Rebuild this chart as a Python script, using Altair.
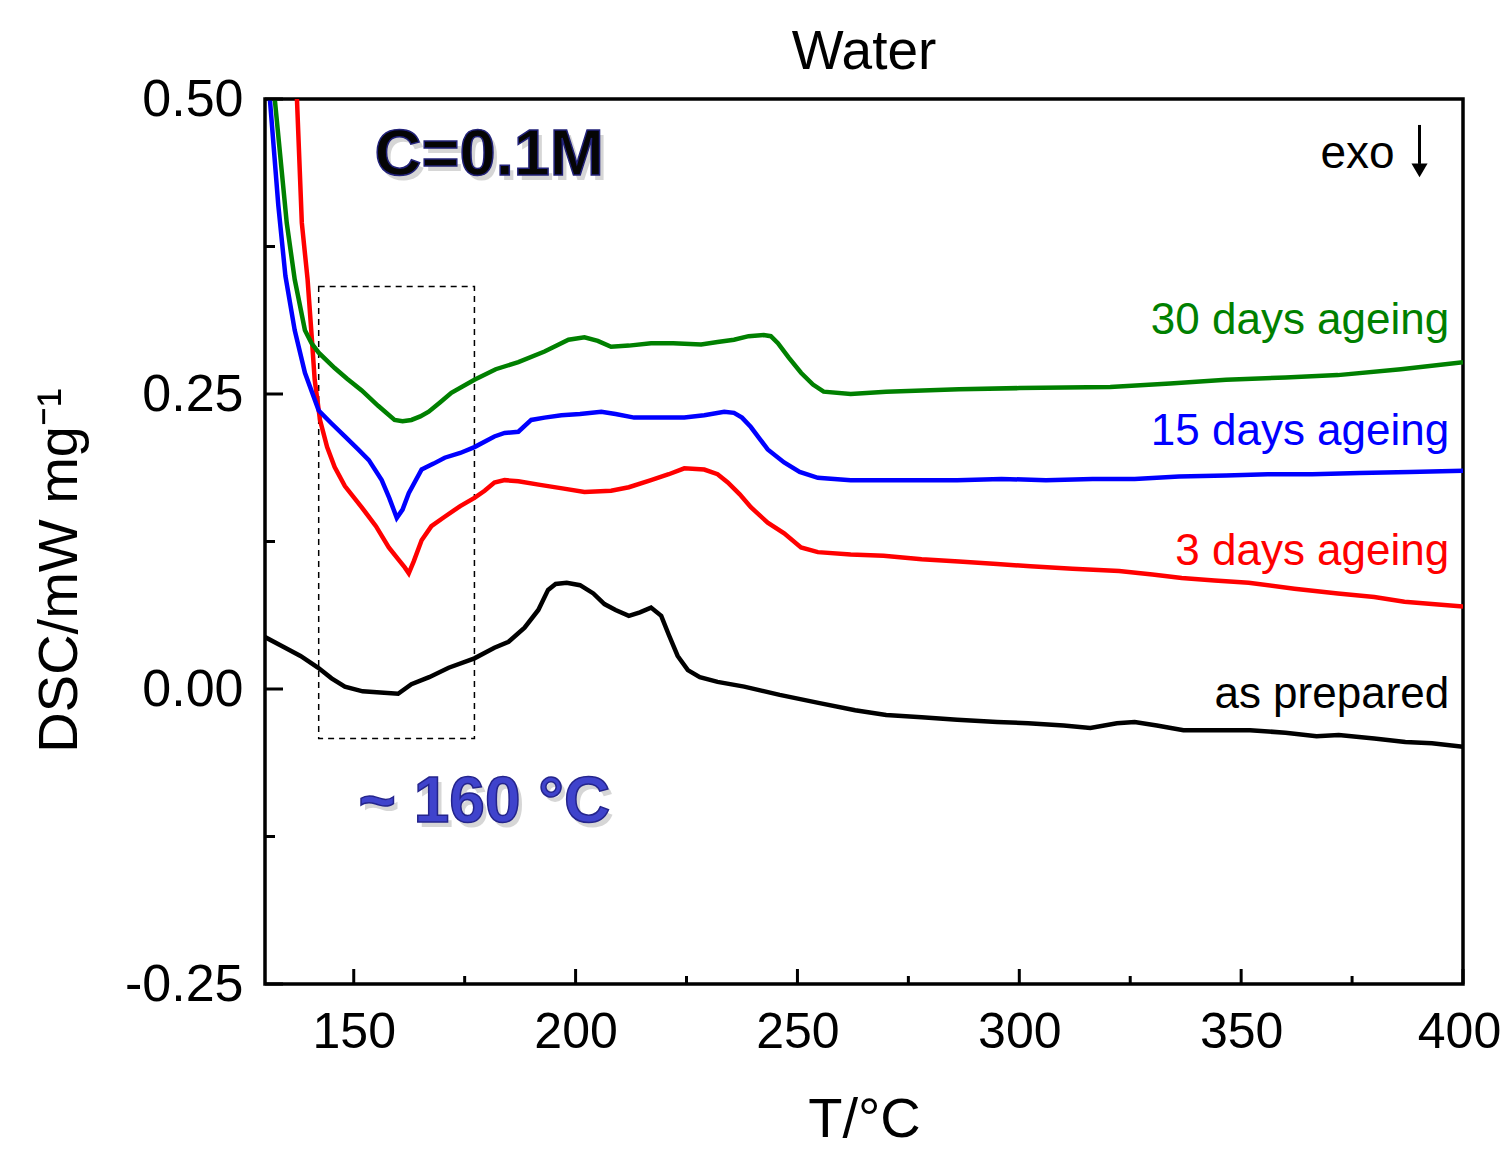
import altair as alt
import pandas as pd

# ---------------- data ----------------
series_names = ["as prepared", "3 days ageing", "15 days ageing", "30 days ageing"]
series_colors = ["#000000", "#ff0000", "#0000ff", "#008000"]

t_prepared = [130, 134, 138, 142, 145, 148, 152, 156, 160, 163,
              167, 171.4, 177.2, 181.7, 184.9, 188.5, 191.6, 193.8, 195.5, 198,
              201, 204, 206.5, 209, 212, 214.5, 217, 219.3, 221, 223,
              225.3, 228, 232, 238, 246, 255, 263, 270, 278, 286,
              295, 302, 310, 316, 322, 326, 331, 337, 344, 352,
              360, 367, 372, 380, 387, 393, 400]
dsc_prepared = [0.044, 0.036, 0.028, 0.018, 0.009, 0.002, -0.002, -0.003, -0.004, 0.004,
                0.010, 0.018, 0.026, 0.035, 0.040, 0.052, 0.067, 0.084, 0.089, 0.090,
                0.088, 0.081, 0.072, 0.067, 0.062, 0.065, 0.069, 0.062, 0.046, 0.028,
                0.016, 0.010, 0.006, 0.002, -0.005, -0.012, -0.018, -0.022, -0.024, -0.026,
                -0.028, -0.029, -0.031, -0.033, -0.029, -0.028, -0.031, -0.035, -0.035, -0.035,
                -0.037, -0.040, -0.039, -0.042, -0.045, -0.046, -0.049]

t_3d = [137.2, 138.3, 139.6, 140.5, 141.2, 142.4, 144, 145.7, 148, 151.8,
        155, 157.9, 160, 161.5, 162.4, 163.5, 165.3, 167.5, 170.5, 174,
        177.2, 179.5, 181.7, 184, 187.1, 192, 197, 202, 208, 212,
        217, 221, 224.5, 229, 232, 234.3, 237, 239.5, 243.3, 247,
        250.8, 254.6, 262, 269.4, 278, 286.4, 295, 302.5, 312, 322.5,
        330, 336.6, 344, 351.7, 362, 371.8, 380, 386.8, 393, 400]
dsc_3d = [0.5, 0.395, 0.347, 0.30, 0.262, 0.228, 0.205, 0.188, 0.172, 0.154,
          0.138, 0.120, 0.110, 0.103, 0.098, 0.108, 0.126, 0.138, 0.146, 0.155,
          0.162, 0.168, 0.175, 0.177, 0.176, 0.173, 0.170, 0.167, 0.168, 0.171,
          0.177, 0.182, 0.187, 0.186, 0.182, 0.175, 0.165, 0.154, 0.141, 0.132,
          0.120, 0.116, 0.114, 0.113, 0.110, 0.108, 0.106, 0.104, 0.102, 0.100,
          0.097, 0.094, 0.092, 0.090, 0.085, 0.081, 0.078, 0.074, 0.072, 0.070]

t_15d = [131.1, 133.0, 134.6, 136.7, 139, 142.1, 145, 148, 151, 153.4,
         156.3, 158, 159.7, 161, 162.4, 165.3, 168, 170.5, 174, 177.2,
         181.7, 184, 187.1, 190, 193, 196.8, 201, 205.8, 209, 213.2,
         219, 224.5, 229, 233.5, 235.7, 237.5, 239.5, 241.5, 243.3, 247,
         250.5, 254.6, 262, 270, 276.4, 286, 296, 306, 316.5, 326,
         336, 346.6, 356, 366, 376.7, 388, 400]
dsc_15d = [0.5, 0.41, 0.35, 0.304, 0.268, 0.236, 0.225, 0.214, 0.203, 0.194,
           0.177, 0.162, 0.145, 0.152, 0.166, 0.186, 0.191, 0.196, 0.200, 0.205,
           0.214, 0.217, 0.218, 0.228, 0.230, 0.232, 0.233, 0.235, 0.233, 0.230,
           0.230, 0.230, 0.232, 0.235, 0.234, 0.230, 0.222, 0.212, 0.203, 0.192,
           0.184, 0.179, 0.177, 0.177, 0.177, 0.177, 0.178, 0.177, 0.178, 0.178,
           0.180, 0.181, 0.182, 0.182, 0.183, 0.184, 0.185]

t_30d = [132.2, 134.9, 136.7, 139, 140.5, 142.1, 145.7, 148.5, 151.8, 155.5,
         159.2, 161, 163, 165, 166.9, 169.5, 172, 177.2, 182, 187.1,
         193, 198.4, 202, 205, 208, 212, 217, 222, 228.3, 232,
         235.7, 239, 242.4, 244, 245.6, 248, 250.8, 253.5, 255.9, 262,
         270, 286.4, 300, 320.5, 334, 346.6, 360, 371.8, 386, 400]
dsc_30d = [0.5, 0.395, 0.347, 0.304, 0.293, 0.285, 0.272, 0.263, 0.253, 0.240,
           0.228, 0.227, 0.228, 0.231, 0.235, 0.243, 0.251, 0.262, 0.271, 0.277,
           0.286, 0.296, 0.298, 0.295, 0.290, 0.291, 0.293, 0.293, 0.292, 0.294,
           0.296, 0.299, 0.300, 0.299, 0.293, 0.281, 0.268, 0.258, 0.252, 0.250,
           0.252, 0.254, 0.255, 0.256, 0.259, 0.262, 0.264, 0.266, 0.271, 0.277]

x_major = [150, 200, 250, 300, 350, 400]
x_minor = [175, 225, 275, 325, 375]
y_major = [-0.25, 0.0, 0.25, 0.5]
y_minor = [-0.125, 0.125, 0.375]

# series labels
label_text = ["30 days ageing", "15 days ageing", "3 days ageing", "as prepared"]
label_x = [396.9, 396.9, 396.9, 396.9]
label_y = [0.3008, 0.2068, 0.105, -0.0161]
label_color = ["#008000", "#0000ff", "#ff0000", "#000000"]

# dashed box around the ~160 °C event
box_x = [142.1]
box_x2 = [177.2]
box_y = [0.341]
box_y2 = [-0.042]

# annotations
conc_text = ["C=0.1M"]
conc_x = [154.7]
conc_y = [0.4525]
peak_text = ["~ 160 \u00b0C"]
peak_x = [151.1]
peak_y = [-0.0966]
exo_text = ["exo"]
exo_x = [384.6]
exo_y = [0.4415]
arrow_x = [390.2]
arrow_top = [0.478]
arrow_bottom = [0.445]
arrow_head_y = [0.4395]

# ---------------- build tables ----------------
rows = []
for name, xs, ys in zip(series_names,
                        [t_prepared, t_3d, t_15d, t_30d],
                        [dsc_prepared, dsc_3d, dsc_15d, dsc_30d]):
    for i, (a, b) in enumerate(zip(xs, ys)):
        rows.append({"series": name, "T": a, "DSC": b, "order": i})
df = pd.DataFrame(rows)

W, H = 1198, 885
FONT = "Liberation Sans"
xscale = alt.Scale(domain=[130, 400], nice=False, zero=False)
yscale = alt.Scale(domain=[-0.25, 0.5], nice=False, zero=False)

xaxis = alt.Axis(values=x_major, title="T/\u00b0C", format="d",
                 labelFontSize=50, titleFontSize=56, labelFlush=False,
                 labelOffset={"condition": {"test": "datum.value == 400", "value": -4}, "value": 0},
                 labelPadding=23, titlePadding=35, titleFontWeight="normal",
                 grid=False, domain=False, ticks=False)
yaxis = alt.Axis(values=y_major, title="DSC/mW mg\u207b\u00b9",
                 labelExpr="datum.value < 0 ? '-' + format(-datum.value, '.2f') : format(datum.value, '.2f')",
                 labelFontSize=52, titleFontSize=56, labelFlush=False,
                 labelPadding=22, titlePadding=36, titleFontWeight="normal",
                 titleY=471, grid=False, domain=False, ticks=False)


def X(field):
    return alt.X(field, scale=xscale, axis=xaxis)


def Y(field):
    return alt.Y(field, scale=yscale, axis=yaxis)


lines = alt.Chart(df).mark_line(strokeWidth=4.5, clip=True).encode(
    x=X("T:Q"),
    y=Y("DSC:Q"),
    color=alt.Color("series:N", scale=alt.Scale(domain=series_names, range=series_colors), legend=None),
    order="order:Q",
)

box = alt.Chart(pd.DataFrame({"x": box_x, "x2": box_x2, "y": box_y, "y2": box_y2})).mark_rect(
    fill=None, fillOpacity=0, stroke="black", strokeWidth=1.5, strokeDash=[6, 5]
).encode(x=X("x:Q"), x2="x2:Q", y=Y("y:Q"), y2="y2:Q")

xt_major = alt.Chart(pd.DataFrame({"v": x_major})).mark_rule(color="black", strokeWidth=3).encode(
    x=X("v:Q"), y=alt.value(H), y2=alt.value(H - 15))
xt_minor = alt.Chart(pd.DataFrame({"v": x_minor})).mark_rule(color="black", strokeWidth=3).encode(
    x=X("v:Q"), y=alt.value(H), y2=alt.value(H - 8))
yt_major = alt.Chart(pd.DataFrame({"v": y_major})).mark_rule(color="black", strokeWidth=3).encode(
    y=Y("v:Q"), x=alt.value(0), x2=alt.value(18))
yt_minor = alt.Chart(pd.DataFrame({"v": y_minor})).mark_rule(color="black", strokeWidth=3).encode(
    y=Y("v:Q"), x=alt.value(0), x2=alt.value(10))

labels = alt.Chart(pd.DataFrame({"t": label_text, "x": label_x, "y": label_y, "c": label_color})).mark_text(
    align="right", baseline="alphabetic", font=FONT, fontSize=44
).encode(x=X("x:Q"), y=Y("y:Q"), text="t:N", color=alt.Color("c:N", scale=None, legend=None))

conc_df = pd.DataFrame({"t": conc_text, "x": conc_x, "y": conc_y})
conc_shadow = alt.Chart(conc_df).mark_text(
    align="left", baseline="middle", font=FONT, fontSize=65, fontWeight="bold",
    color="#9a9a9a", opacity=0.4, dx=4, dy=5
).encode(x=X("x:Q"), y=Y("y:Q"), text="t:N")
conc = alt.Chart(conc_df).mark_text(
    align="left", baseline="middle", font=FONT, fontSize=65, fontWeight="bold",
    fill="#050505", stroke="#22227a", strokeWidth=1.5
).encode(x=X("x:Q"), y=Y("y:Q"), text="t:N")

peak_df = pd.DataFrame({"t": peak_text, "x": peak_x, "y": peak_y})
peak_shadow = alt.Chart(peak_df).mark_text(
    align="left", baseline="middle", font=FONT, fontSize=64, fontWeight="bold",
    color="#9a9a9a", opacity=0.4, dx=4, dy=5
).encode(x=X("x:Q"), y=Y("y:Q"), text="t:N")
peak = alt.Chart(peak_df).mark_text(
    align="left", baseline="middle", font=FONT, fontSize=64, fontWeight="bold",
    fill="#3f43cc", stroke="#24248c", strokeWidth=1.5
).encode(x=X("x:Q"), y=Y("y:Q"), text="t:N")

exo = alt.Chart(pd.DataFrame({"t": exo_text, "x": exo_x, "y": exo_y})).mark_text(
    align="right", baseline="alphabetic", font=FONT, fontSize=46, color="black"
).encode(x=X("x:Q"), y=Y("y:Q"), text="t:N")

arrow_shaft = alt.Chart(pd.DataFrame({"x": arrow_x, "y": arrow_top, "y2": arrow_bottom})).mark_rule(
    color="black", strokeWidth=3
).encode(x=X("x:Q"), y=Y("y:Q"), y2="y2:Q")
arrow_head = alt.Chart(pd.DataFrame({"x": arrow_x, "y": arrow_head_y})).mark_point(
    shape="triangle-down", filled=True, color="black", size=260, opacity=1
).encode(x=X("x:Q"), y=Y("y:Q"))

chart = alt.layer(
    box, lines, xt_major, xt_minor, yt_major, yt_minor, labels,
    conc_shadow, conc, peak_shadow, peak, exo, arrow_shaft, arrow_head
).properties(
    width=W, height=H,
    title=alt.Title("Water", fontSize=55, font=FONT, fontWeight="normal", color="black",
                    anchor="middle", offset=20, dy=28),
    padding={"left": 257, "top": 91, "right": 40, "bottom": 163},
    autosize="none",
).configure_view(
    stroke="black", strokeWidth=3.5
).configure_axis(
    labelFont=FONT, titleFont=FONT, labelColor="black", titleColor="black",
)

chart.save("out.html", embed_options={"renderer": "svg", "actions": False})
